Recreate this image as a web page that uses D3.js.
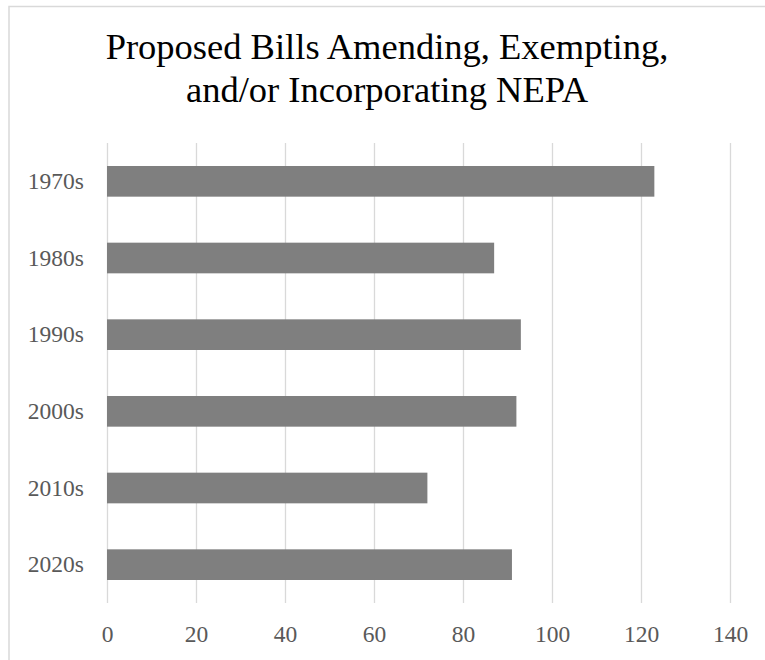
<!DOCTYPE html>
<html lang="en">
<head>
  <meta charset="UTF-8">
  <title>Proposed Bills Amending, Exempting, and/or Incorporating NEPA</title>
  <script src="https://d3js.org/d3.v7.min.js"></script>
  <style>
    body {
      margin: 0;
      background: #fff;
      font-family: "Liberation Serif", "DejaVu Serif", serif;
    }
    .grid line {
      stroke: #d9d9d9;
      stroke-width: 1.3;
    }
    .tick text {
      fill: #595959;
      font-size: 23.5px;
      font-family: "Liberation Serif", serif;
    }
    .bar {
      fill: #7f7f7f;
    }
  </style>
</head>
<body>
  <div id="chart"></div>
  <script>
    // Data
    const categories = ["1970s", "1980s", "1990s", "2000s", "2010s", "2020s"];
    const values = [123, 87, 93, 92, 72, 91];
    const xTicks = [0, 20, 40, 60, 80, 100, 120, 140];
    const titleLines = ["Proposed Bills Amending, Exempting,", "and/or Incorporating NEPA"];

    // Dimensions
    const width = 765;
    const height = 660;
    const plot = { left: 107, right: 730, top: 143, bottom: 603 };

    const svg = d3.select("#chart")
      .append("svg")
      .attr("width", width)
      .attr("height", height);

    // Chart border (runs off the right and bottom edges)
    svg.append("rect")
      .attr("x", 9)
      .attr("y", 6.5)
      .attr("width", width + 20)
      .attr("height", height + 20)
      .attr("fill", "none")
      .attr("stroke", "#d9d9d9")
      .attr("stroke-width", 1.5);

    // Title
    svg.append("text")
      .attr("text-anchor", "middle")
      .attr("fill", "#000")
      .style("font-size", "36.5px")
      .selectAll("tspan")
      .data(titleLines)
      .join("tspan")
      .attr("x", 387)
      .attr("y", (d, i) => 59 + i * 42.5)
      .text(d => d);

    // Scales
    const x = d3.scaleLinear()
      .domain([0, 140])
      .range([plot.left, plot.right]);

    const y = d3.scaleBand()
      .domain(categories)
      .range([plot.top, plot.bottom])
      .paddingInner(0.6)
      .paddingOuter(0.3);

    // Vertical gridlines + x tick labels
    const xAxis = d3.axisBottom(x)
      .tickValues(xTicks)
      .tickSizeInner(-(plot.bottom - plot.top))
      .tickSizeOuter(0)
      .tickPadding(22);

    svg.append("g")
      .attr("class", "grid")
      .attr("transform", `translate(0, ${plot.bottom})`)
      .call(xAxis)
      .call(g => g.select(".domain").remove());

    // Bars
    svg.selectAll(".bar")
      .data(values)
      .join("rect")
      .attr("class", "bar")
      .attr("x", x(0))
      .attr("y", (d, i) => y(categories[i]))
      .attr("width", d => x(d) - x(0))
      .attr("height", y.bandwidth());

    // Category labels
    const yAxis = d3.axisLeft(y)
      .tickSize(0)
      .tickPadding(23);

    svg.append("g")
      .attr("transform", `translate(${plot.left}, 0)`)
      .call(yAxis)
      .call(g => g.select(".domain").remove());
  </script>
</body>
</html>
